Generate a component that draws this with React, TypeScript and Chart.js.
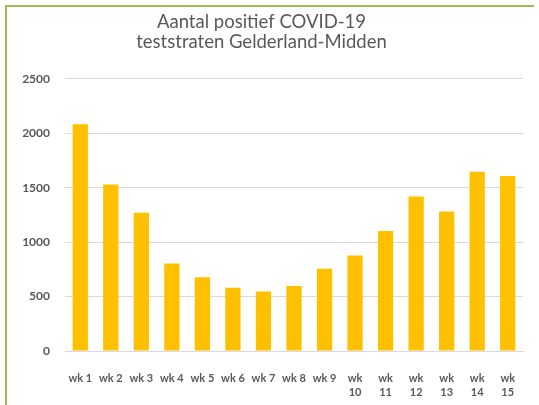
import React, { useEffect, useRef } from "react";
import { Chart, registerables } from "chart.js";

Chart.register(...registerables);

const titleLines = ["Aantal positief COVID-19", "teststraten Gelderland-Midden"];
const categories: (string | string[])[] = [
  "wk 1", "wk 2", "wk 3", "wk 4", "wk 5", "wk 6", "wk 7", "wk 8", "wk 9",
  ["wk", "10"], ["wk", "11"], ["wk", "12"], ["wk", "13"], ["wk", "14"], ["wk", "15"],
];
const positives = [2083, 1529, 1270, 804, 678, 582, 546, 598, 756, 877, 1103, 1420, 1282, 1648, 1608];
const yMin = 0;
const yMax = 2500;
const yStep = 500;

const FONT = "Lato, 'Open Sans', sans-serif";

export default function App() {
  const ref = useRef<HTMLCanvasElement | null>(null);

  useEffect(() => {
    if (!ref.current) return;
    const chart = new Chart(ref.current, {
      type: "bar",
      data: {
        labels: categories,
        datasets: [
          {
            data: positives,
            backgroundColor: "#FFC000",
            borderWidth: 0,
            barPercentage: 0.5,
            categoryPercentage: 1,
          },
        ],
      },
      options: {
        responsive: false,
        animation: false,
        layout: { padding: { left: 0, right: 16, top: 0, bottom: 6 } },
        plugins: {
          legend: { display: false },
          tooltip: { enabled: false },
          title: {
            display: true,
            text: titleLines,
            color: "#595959",
            font: { family: FONT, size: 18.5, weight: "normal", lineHeight: 1.08 },
            padding: { top: 12, bottom: 27 },
          },
        },
        scales: {
          x: {
            grid: { display: false, drawTicks: false },
            border: { display: true, color: "#D9D9D9", width: 1 },
            ticks: {
              color: "#595959",
              font: { family: FONT, size: 11, weight: "bold", lineHeight: 1.27 },
              padding: 20,
              autoSkip: false,
              maxRotation: 0,
              minRotation: 0,
            },
            afterFit: (scale: any) => {
              scale.height = 48;
            },
          },
          y: {
            min: yMin,
            max: yMax,
            grid: { color: "#D9D9D9", drawTicks: false },
            border: { display: false },
            ticks: {
              stepSize: yStep,
              color: "#595959",
              font: { family: FONT, size: 12, weight: "bold" },
              padding: 15,
              callback: (v: any) => String(v),
            },
            afterFit: (scale: any) => {
              scale.width = 65;
            },
          },
        },
      },
    });
    return () => chart.destroy();
  }, []);

  return (
    <div style={{ position: "absolute", left: 0, top: 0, width: 539, height: 405, background: "#fff", overflow: "hidden" }}>
      <canvas ref={ref} width={539} height={405} style={{ display: "block", width: 539, height: 405 }} />
      <div
        style={{
          position: "absolute",
          left: 5,
          top: 5,
          width: 527,
          height: 500,
          borderLeft: "2px solid #9BBB59",
          borderTop: "2px solid #9BBB59",
          pointerEvents: "none",
        }}
      />
    </div>
  );
}
